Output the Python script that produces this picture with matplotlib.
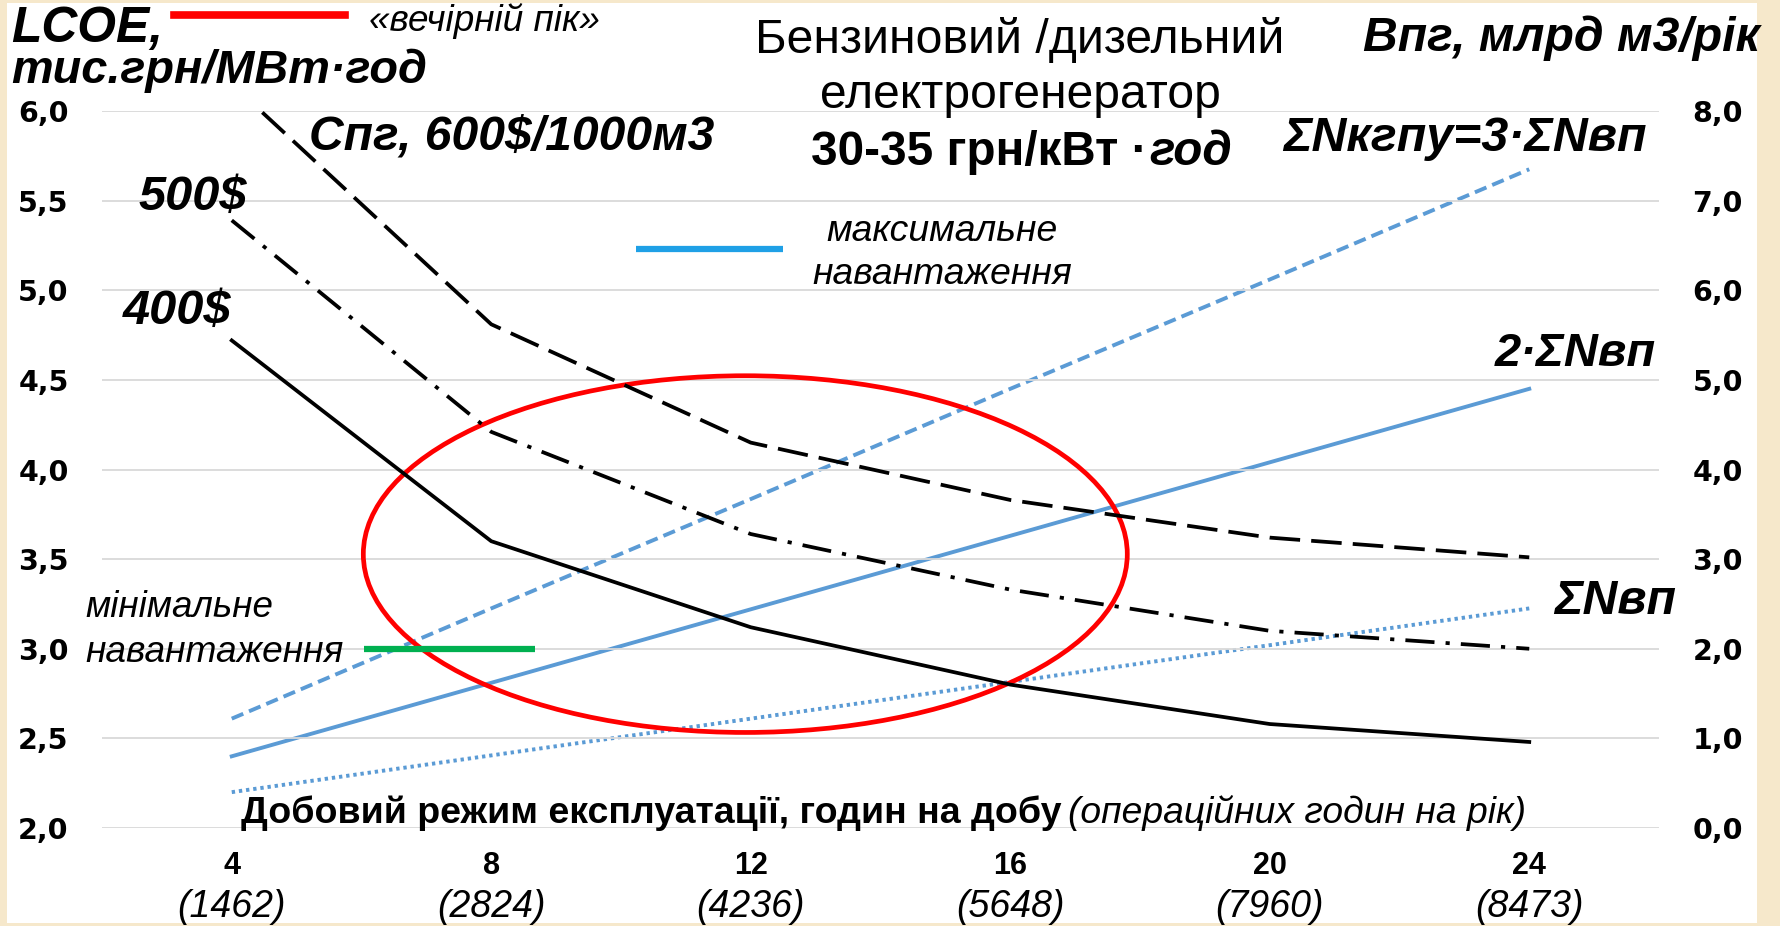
import matplotlib
matplotlib.use('Agg')

import numpy as np
import matplotlib.pyplot as plt
from matplotlib.patches import Ellipse, Rectangle
from matplotlib.lines import Line2D

# chart values
hours_day = ['4', '8', '12', '16', '20', '24']
hours_year = ['(1462)', '(2824)', '(4236)', '(5648)', '(7960)', '(8473)']

# LCOE, тис.грн/МВт·год (left axis), gas price 400/500/600 $ per 1000 m3
lcoe_400 = [4.72, 3.60, 3.12, 2.80, 2.58, 2.48]
lcoe_500 = [5.39, 4.21, 3.64, 3.33, 3.10, 3.00]
lcoe_600 = [6.15, 4.81, 4.15, 3.83, 3.62, 3.51]

# gas consumption, млрд м3/рік (right axis)
gas_1x = [0.40, 0.81, 1.22, 1.63, 2.04, 2.45]
gas_2x = [0.80, 1.62, 2.44, 3.26, 4.08, 4.90]
gas_3x = [1.22, 2.45, 3.67, 4.90, 6.12, 7.35]

left_ticks = [2.0, 2.5, 3.0, 3.5, 4.0, 4.5, 5.0, 5.5, 6.0]
right_ticks = [0, 1, 2, 3, 4, 5, 6, 7, 8]

W, H = 1781, 926
plt.rcParams['font.family'] = ['Liberation Sans', 'DejaVu Sans']
plt.rcParams['lines.scale_dashes'] = False

fig = plt.figure(figsize=(W / 100, H / 100), dpi=100)
fig.patch.set_facecolor('#F6E8CB')
fig.add_artist(Rectangle((7 / W, 3 / H), 1750 / W, 920 / H, transform=fig.transFigure,
                         facecolor='white', edgecolor='none', zorder=-10))

ax = fig.add_axes([102 / W, 1 - 828 / H, (1659 - 102) / W, (828 - 111) / H])
ax2 = ax.twinx()
ax.set_zorder(2)
ax.patch.set_visible(False)

x = np.arange(len(hours_day))

# gas consumption lines
blue = '#5B9BD5'
ax2.plot(x, gas_1x, color=blue, lw=2.8, dashes=(2.4, 2.8))
ax2.plot(x, gas_2x, color=blue, lw=2.8)
ax2.plot(x, gas_3x, color=blue, lw=2.8, dashes=(9, 4.5))

# LCOE lines
ax.plot(x, lcoe_400, color='black', lw=2.7)
ax.plot(x, lcoe_500, color='black', lw=2.7, dashes=(21, 8, 3, 8))
ax.plot(x, lcoe_600, color='black', lw=2.7, dashes=(22, 8))

# highlight ellipse and the load markers
ax.add_patch(Ellipse((1.979, 3.528), 2.944, 1.99, fill=False, ec='red', lw=3.4))
ax.plot([0.51, 1.17], [3.0, 3.0], color='#00B050', lw=4.5, solid_capstyle='butt')
ax.plot([1.557, 2.126], [5.23, 5.23], color='#1FA0E6', lw=4.5, solid_capstyle='butt')

ax.set_xlim(-0.5, 5.5)
ax.set_ylim(2, 6)
ax2.set_ylim(0, 8)

ax.set_yticks(left_ticks)
ax.set_yticklabels([f'{v:.1f}'.replace('.', ',') for v in left_ticks])
ax2.set_yticks(right_ticks)
ax2.set_yticklabels([f'{v:.1f}'.replace('.', ',') for v in right_ticks])
for a in (ax, ax2):
    a.tick_params(axis='y', length=0, pad=24)
    for t in a.get_yticklabels():
        t.set_fontfamily('DejaVu Sans')
        t.set_fontweight('bold')
        t.set_fontsize(20.5)
    for s in a.spines.values():
        s.set_visible(False)

ax.grid(axis='y', color='#D9D9D9', lw=1.3)
ax.set_axisbelow(True)
ax.set_xticks([])
ax2.set_xticks([])

# two-row category labels
xt = ax.get_xaxis_transform()
for i in x:
    ax.text(i, (828 - 866) / (828 - 111), hours_day[i], transform=xt, ha='center', va='center',
            fontsize=22, fontweight='bold')
    ax.text(i, (828 - 907) / (828 - 111), hours_year[i], transform=xt, ha='center', va='center',
            fontsize=27, fontstyle='italic')

# red legend stroke at the top
fig.add_artist(Line2D([174 / W, 345 / W], [1 - 15 / H, 1 - 15 / H], color='red', lw=5.5,
                      transform=fig.transFigure))

renderer = fig.canvas.get_renderer()


def label(px, py, s, width, ha='left', **kw):
    t = fig.text(px / W, 1 - py / H, s, ha=ha, va='baseline', fontsize=20, **kw)
    t.set_fontsize(20 * width / t.get_window_extent(renderer).width)
    return t


bi = dict(fontweight='bold', fontstyle='italic')
it = dict(fontstyle='italic')

label(11, 42, 'LCOE,', 152, **bi)
label(11, 83, 'тис.грн/МВт·год', 415, **bi)
label(369, 31, '«вечірній пік»', 230, **it)
label(1020, 53, 'Бензиновий /дизельний', 526, ha='center')
label(1020, 108, 'електрогенератор', 399, ha='center')
t = label(811, 165, '30-35 грн/кВт ·', 336, fontweight='bold')
e = t.get_window_extent(renderer)
fig.text(e.x1 / W + 2 / W, 1 - 165 / H, 'год', va='baseline', fontsize=t.get_fontsize(), **bi)
label(1363, 51, 'Впг, млрд м3/рік', 397, **bi)
label(1283, 151, 'ΣNкгпу=3·ΣNвп', 363, **bi)
label(309, 151, 'Спг, 600$/1000м3', 403, **bi)
label(139, 210, '500$', 108, **bi)
label(123, 324, '400$', 108, **bi)
label(826, 241, 'максимальне', 231, **it)
label(812, 284, 'навантаження', 259, **it)
label(1495, 366, '2·ΣNвп', 161, **bi)
label(1554, 614, 'ΣNвп', 122, **bi)
label(85, 617, 'мінімальне', 187, **it)
label(85, 662, 'навантаження', 258, **it)
label(241, 823, 'Добовий режим експлуатації, годин на добу', 818, fontweight='bold')
label(1068, 823, '(операційних годин на рік)', 457, **it)

fig.savefig('out.png', dpi=100, facecolor=fig.get_facecolor())
